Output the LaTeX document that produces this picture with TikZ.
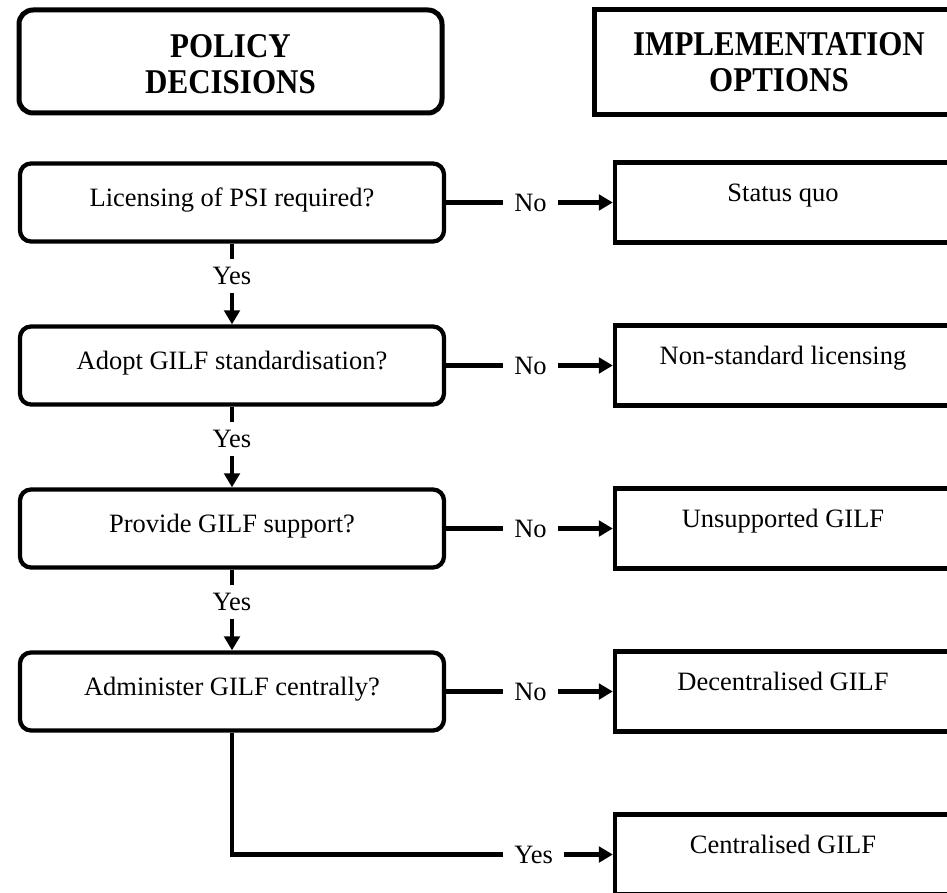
\documentclass[tikz,border=0pt]{standalone}
\usepackage{fontspec}
\setmainfont{Liberation Serif}
\usetikzlibrary{arrows.meta}
\newcommand{\regfont}{\fontsize{26.5}{30}\selectfont}
\begin{document}
\begin{tikzpicture}[x=1pt,y=-1pt,
  hdrbox/.style={draw, line width=5pt, inner sep=0pt},
  hdrtext/.style={font=\fontsize{31}{32.6}\selectfont\bfseries, inner sep=0pt},
  decbox/.style={draw, line width=4.3pt, rounded corners=11pt, minimum width=424pt,
    minimum height=78pt, inner sep=0pt, font=\regfont, text height=18pt, text depth=10pt},
  optbox/.style={draw, line width=4.3pt, minimum width=336pt, minimum height=80pt,
    inner sep=0pt, font=\regfont, text height=9pt, text depth=11pt},
  conn/.style={line width=4.3pt, -{Triangle[length=14pt,width=15.5pt]}},
  lbl/.style={fill=white, inner xsep=11pt, inner ysep=8pt, font=\regfont}
]
\useasboundingbox (0,0) rectangle (947,893);
\clip (0,0) rectangle (947,893);

% headers
\node[hdrbox, rounded corners=14pt, minimum width=423pt, minimum height=103pt] (ph) at (230.5,61.5) {};
\node[hdrtext] (pht) at (230.5,68) {\scalebox{1}[1.12]{\begin{tabular}{@{}c@{}}POLICY\\DECISIONS\end{tabular}}};
\node[hdrbox, minimum width=370pt, minimum height=105pt] (ih) at (779,62.5) {};
\node[hdrtext] (iht) at (779,66) {\scalebox{1}[1.12]{\begin{tabular}{@{}c@{}}IMPLEMENTATION\\OPTIONS\end{tabular}}};

% decisions
\node[decbox] (d1) at (232,202.5) {Licensing of PSI required?};
\node[decbox] (d2) at (232,365.5) {Adopt GILF standardisation?};
\node[decbox] (d3) at (232,528.5) {Provide GILF support?};
\node[decbox] (d4) at (232,691.5) {Administer GILF centrally?};

% options
\node[optbox] (o1) at (783,202.5) {Status quo};
\node[optbox] (o2) at (783,365.5) {Non-standard licensing};
\node[optbox] (o3) at (783,528.5) {Unsupported GILF};
\node[optbox] (o4) at (783,691.5) {Decentralised GILF};
\node[optbox] (o5) at (783,854.5) {Centralised GILF};

% connectors
\draw[conn] (d1.east) -- node[lbl, pos=0.506] {No} (o1.west);
\draw[conn] (d2.east) -- node[lbl, pos=0.506] {No} (o2.west);
\draw[conn] (d3.east) -- node[lbl, pos=0.506] {No} (o3.west);
\draw[conn] (d4.east) -- node[lbl, pos=0.506] {No} (o4.west);
\draw[conn] (d1.south) -- node[lbl, pos=0.4] {Yes} (d2.north);
\draw[conn] (d2.south) -- node[lbl, pos=0.4] {Yes} (d3.north);
\draw[conn] (d3.south) -- node[lbl, pos=0.4] {Yes} (d4.north);
\draw[conn] (d4.south) |- node[lbl, pos=0.896] {Yes} (o5.west);
\end{tikzpicture}
\end{document}
